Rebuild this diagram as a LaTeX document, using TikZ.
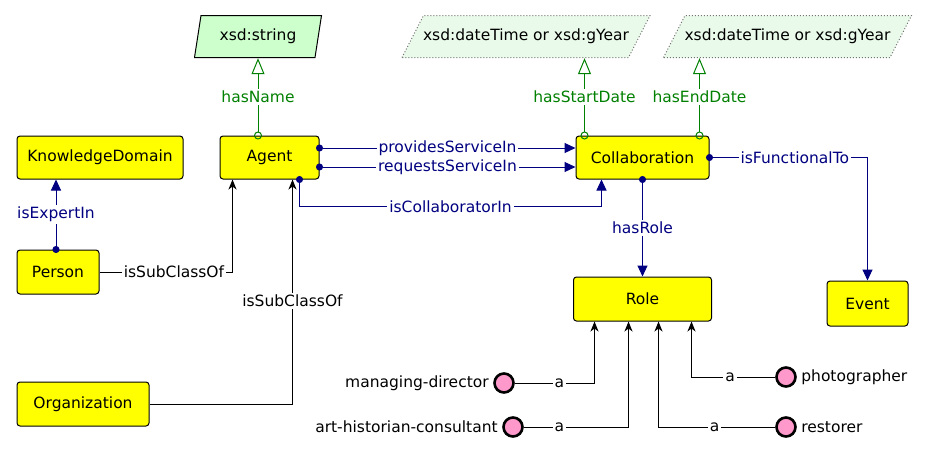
\documentclass[tikz,border=0pt]{standalone}
\usepackage{fontspec}
\setmainfont{DejaVu Sans}
\usepackage{tikz}
\usetikzlibrary{shapes.geometric, arrows.meta, positioning, calc}
\definecolor{cYellow}{RGB}{255,255,0}
\definecolor{cNavy}{RGB}{0,0,128}
\definecolor{cGreen}{RGB}{0,128,0}
\definecolor{cMint}{RGB}{204,255,204}
\definecolor{cPale}{RGB}{234,250,234}
\definecolor{cPink}{RGB}{255,153,204}
\tikzset{
	cls/.style   ={rectangle, rounded corners=3pt, draw=black, line width=1pt, fill=cYellow, minimum height=43pt, inner sep=0pt},
	% slanted datatype boxes: #1 = slant, #2 = look of the outline
	para/.style n args={2}{rectangle, minimum height=43pt, inner sep=0pt,
		path picture={\path[#2] ($(path picture bounding box.south west)+(0.5pt,0.5pt)$) -- ($(path picture bounding box.north west)+(#1,-0.5pt)$)
			-- ($(path picture bounding box.north east)+(-0.5pt,-0.5pt)$) -- ($(path picture bounding box.south east)+(-#1,0.5pt)$) -- cycle;}},
	dtype/.style ={para={7pt}{draw=black, line width=1pt, fill=cMint}},
	dtopt/.style ={para={22pt}{draw=black!55, line width=1pt, dotted, fill=cPale}},
	indiv/.style ={circle, draw=black, line width=2.6pt, fill=cPink, minimum size=19pt, inner sep=0pt},
	lbl/.style   ={fill=white, inner sep=2pt},
	% object properties
	objp/.style  ={cNavy, line width=1pt, {Circle[length=7pt]}-{Triangle[length=11pt,width=10pt]}, shorten <=-3.5pt},
	olbl/.style  ={lbl, text=cNavy},
	% datatype properties
	datap/.style ={cGreen, line width=1pt, {Circle[open,length=8pt]}-{Triangle[open,length=16pt,width=13pt]}, shorten <=-4pt},
	dlbl/.style  ={lbl, text=cGreen},
	% subclass and rdf:type
	isa/.style   ={black, line width=1pt, -{Stealth[length=10pt,width=8pt,inset=3pt]}},
}
\begin{document}
\begin{tikzpicture}[x=1pt, y=-1pt, font=\fontsize{15.5}{18}\selectfont, node distance=36pt]
	\useasboundingbox (0,0) rectangle (927,453);
	% classes
	\node[cls, minimum width=166pt] (kd) at (100,157.5) {KnowledgeDomain};
	\node[cls, minimum width=99pt, right=36pt of kd] (agent) {Agent};
	\node[cls, minimum width=133pt, right=256pt of agent] (collab) {Collaboration};
	\node[cls, minimum width=82pt, minimum height=44pt, below right=70pt and 0pt of kd.south west] (person) {Person};
	\node[cls, minimum width=132pt, minimum height=44pt, below right=87pt and 0pt of person.south west] (org) {Organization};
	\node[cls, minimum width=138pt, minimum height=44pt, below=97pt of collab] (role) {Role};
	\node[cls, minimum width=81pt, minimum height=45pt] (event) at (867.5,303.5) {Event};
	% datatypes
	\node[dtype, minimum width=128pt] (str) at (258,36.5) {xsd:string};
	\node[dtopt, minimum width=249pt] (start) at (526,36.5) {xsd:dateTime or xsd:gYear};
	\node[dtopt, minimum width=249pt] (end) at (787.5,36.5) {xsd:dateTime or xsd:gYear};
	% individuals
	\node[indiv, label={[label distance=1pt]left:managing-director}] (md) at (504,383) {};
	\node[indiv, label={[label distance=1pt]left:art-historian-consultant}] (ahc) at (513,427) {};
	\node[indiv, label={[label distance=1pt]right:photographer}] (photo) at (786,377) {};
	\node[indiv, label={[label distance=1pt]right:restorer}] (rest) at (786,427) {};
	\coordinate (cs) at ([xshift=9pt]collab.north west);
	\coordinate (ce) at ([xshift=-10pt]collab.north east);

	\draw[datap] (str.south |- agent.north) -- node[dlbl] {hasName} (str.south);
	\draw[datap] (cs) -- node[dlbl] {hasStartDate} (cs |- start.south);
	\draw[datap] (ce) -- node[dlbl] {hasEndDate} (ce |- end.south);

	\draw[objp] ([yshift=9.5pt]agent.east) -- node[olbl] {providesServiceIn} ([yshift=9.5pt]collab.west);
	\draw[objp] ([yshift=-9.5pt]agent.east) -- node[olbl] {requestsServiceIn} ([yshift=-9.5pt]collab.west);
	\draw[objp] ([xshift=-20pt]agent.south east) -- ++(0,27) -| node[olbl, pos=0.25] {isCollaboratorIn} ([xshift=26pt]collab.south west);
	\draw[objp] ([xshift=-2pt]person.north) -- node[olbl] {isExpertIn} ([xshift=-2pt]person.north |- kd.south);
	\draw[objp] (collab.south) -- node[olbl] {hasRole} (role.north);
	\draw[objp] (collab.east) -| node[olbl, pos=0.27] {isFunctionalTo} (event.north);

	\draw[isa] (person.east) -| node[lbl, pos=0.28] {isSubClassOf} ([xshift=-37pt]agent.south);
	\draw[isa] (org.east) -| node[lbl, pos=0.73] {isSubClassOf} ([xshift=23pt]agent.south);

	\draw[isa] (md) -| node[lbl, pos=0.28] {a} ([xshift=-48pt]role.south);
	\draw[isa] (ahc) -| node[lbl, pos=0.17] {a} ([xshift=-14pt]role.south);
	\draw[isa] (photo) -| node[lbl, pos=0.27] {a} ([xshift=49pt]role.south);
	\draw[isa] (rest) -| node[lbl, pos=0.26] {a} ([xshift=16pt]role.south);
\end{tikzpicture}
\end{document}
